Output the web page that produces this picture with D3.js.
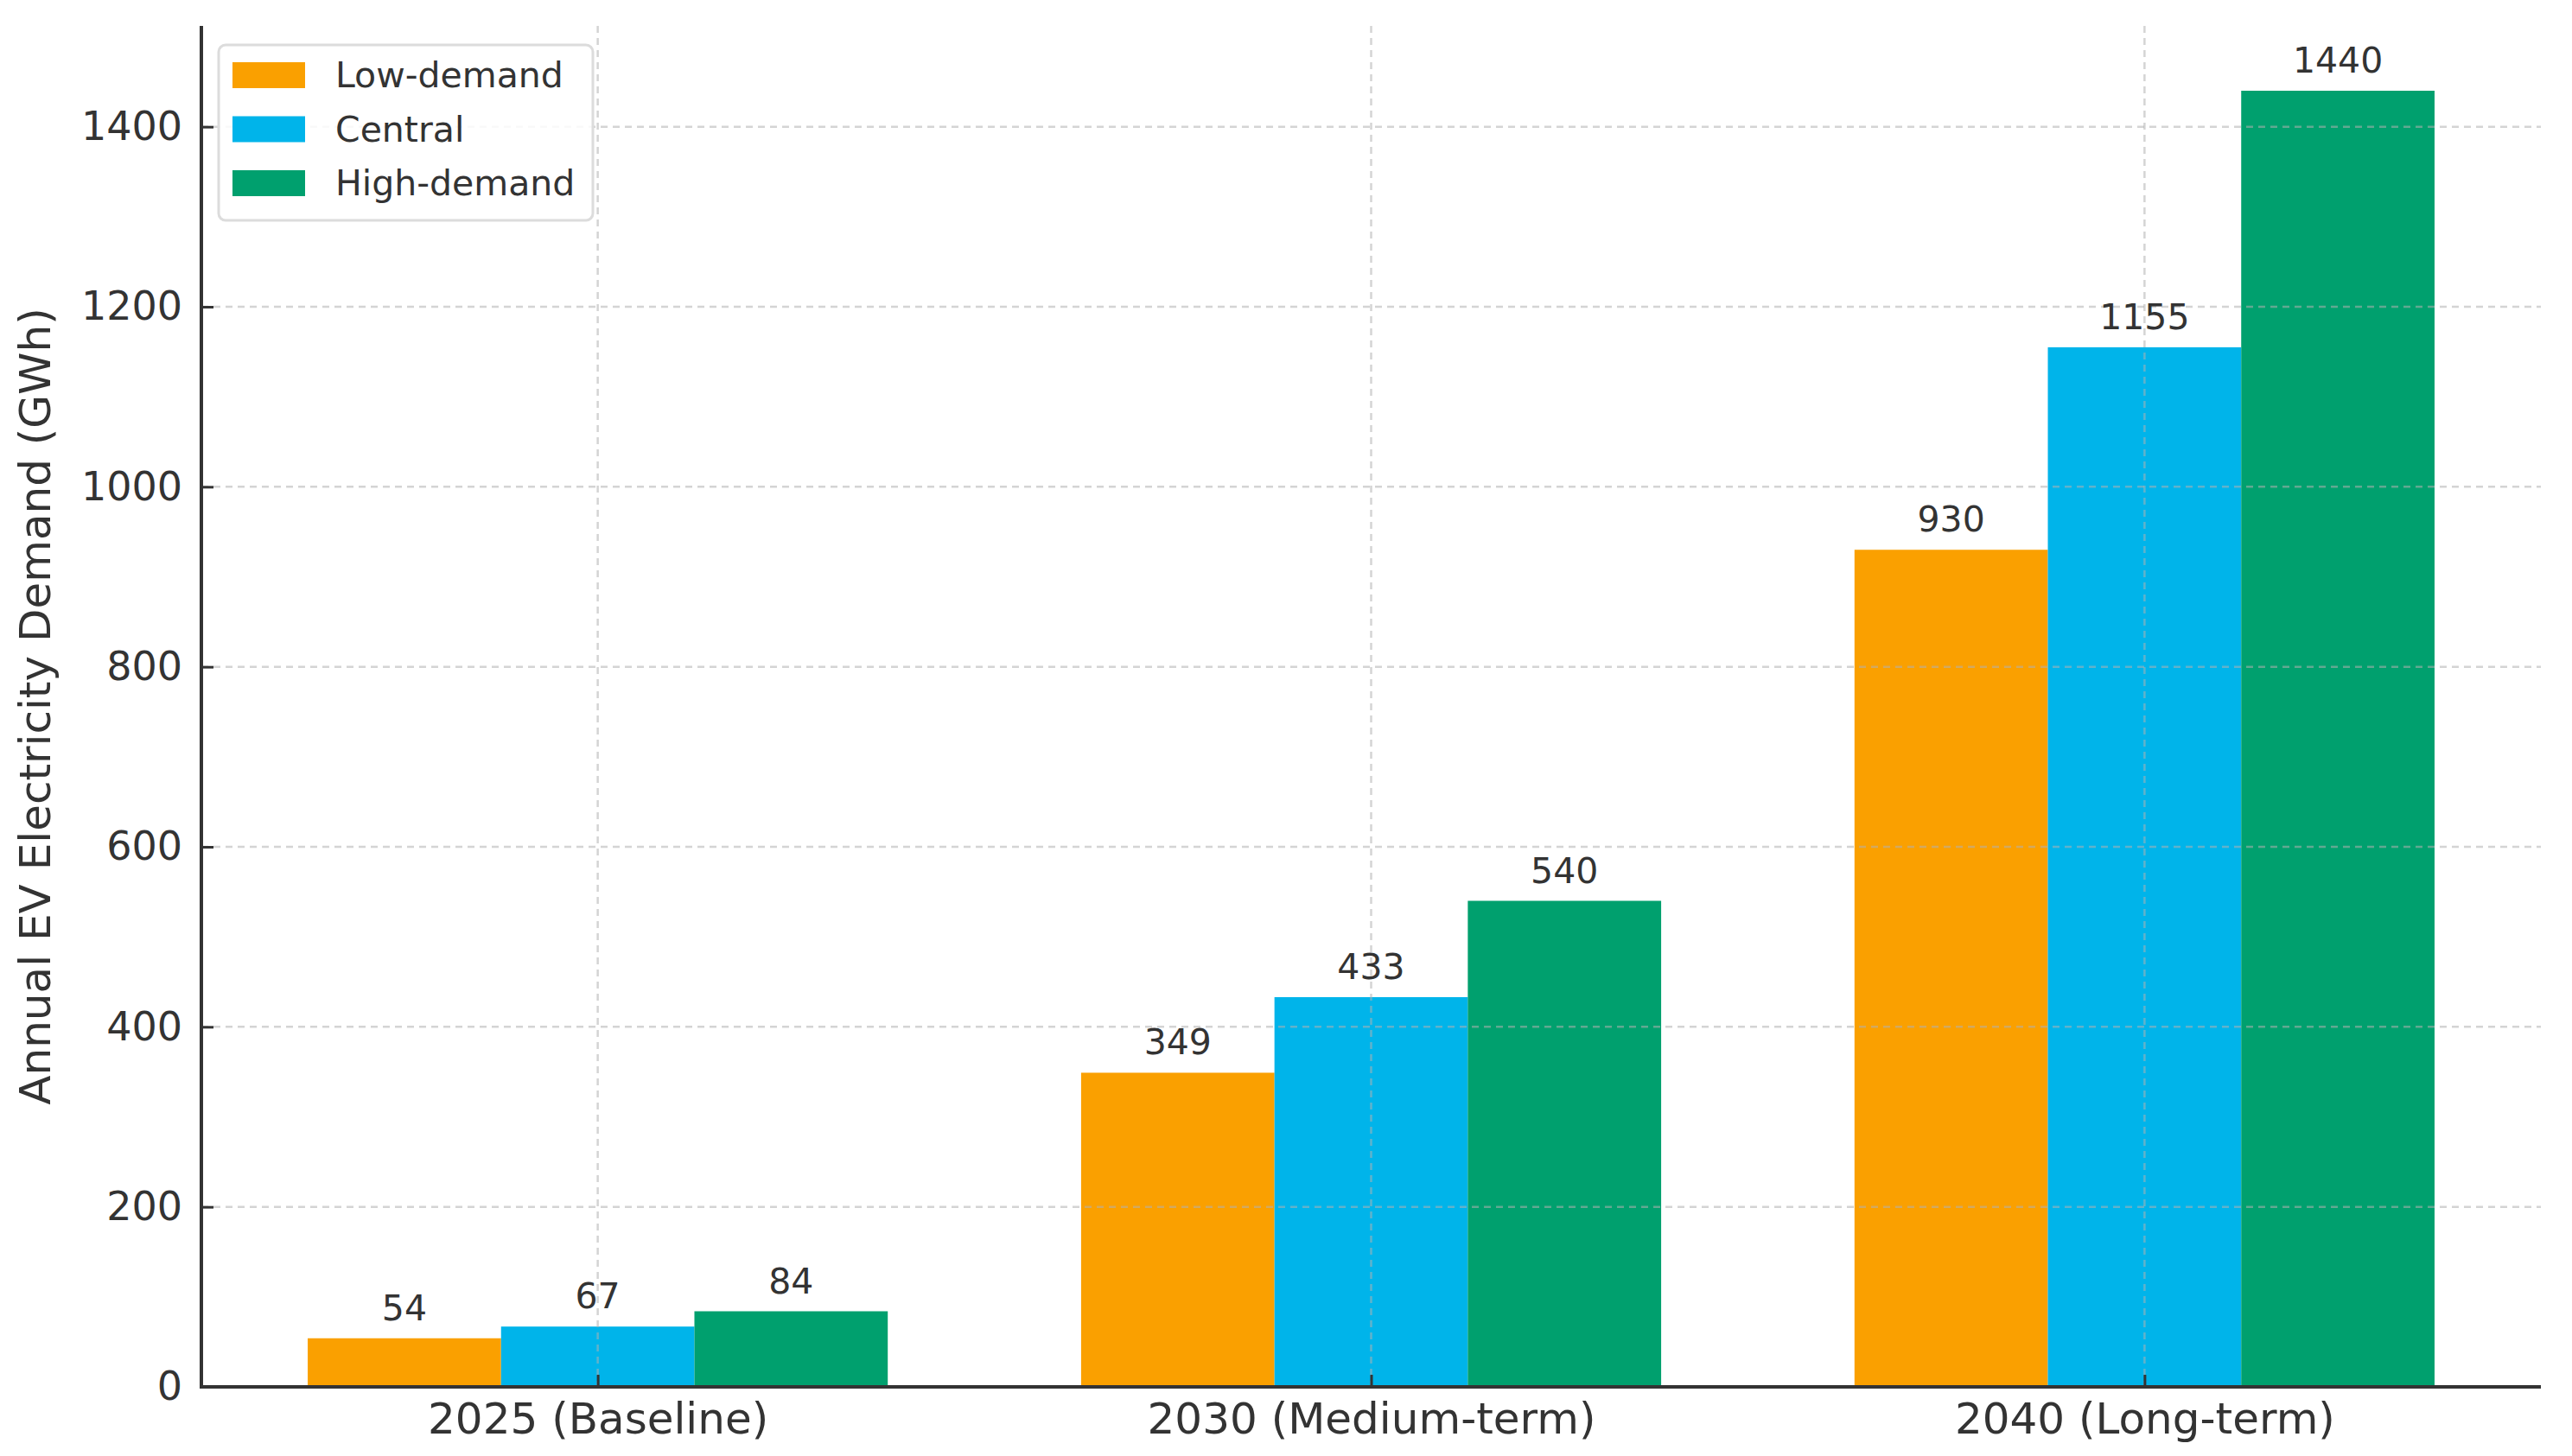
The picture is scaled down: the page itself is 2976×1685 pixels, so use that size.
<!DOCTYPE html>
<html>
<head>
<meta charset="utf-8">
<script src="https://cdn.jsdelivr.net/npm/d3@7"></script>
<style>
  html, body { margin: 0; padding: 0; background: #fff; }
  svg { display: block; }
  text { font-family: "DejaVu Sans", sans-serif; }
</style>
</head>
<body>
<svg id="chart" width="2976" height="1685"></svg>
<script>
const categories = ["2025 (Baseline)", "2030 (Medium-term)", "2040 (Long-term)"];
const seriesNames = ["Low-demand", "Central", "High-demand"];
const lowDemand = [54, 349, 930];
const central = [67, 433, 1155];
const highDemand = [84, 540, 1440];
const yTicks = [0, 200, 400, 600, 800, 1000, 1200, 1400];
const colors = ["#FAA000", "#00B4EA", "#00A06E"];

const series = [lowDemand, central, highDemand];

const mLeft = 233, mRight = 2940, mTop = 30, mBottom = 1605;

const svg = d3.select("#chart");

// x as a linear scale in category-index units (matplotlib style)
const barW = 0.25;
const x = d3.scaleLinear().domain([-0.5125, 2.5125]).range([mLeft, mRight]);
const y = d3.scaleLinear().domain([0, 1512]).range([mBottom, mTop]);

// bars
const gBars = svg.append("g");
series.forEach((vals, si) => {
  gBars.selectAll(null)
    .data(vals)
    .enter()
    .append("rect")
    .attr("x", (d, i) => x(i + (si - 1) * barW - barW / 2))
    .attr("width", x(barW) - x(0))
    .attr("y", d => y(d))
    .attr("height", d => y(0) - y(d))
    .attr("fill", colors[si]);
});

// grid (drawn over bars, translucent)
const gGrid = svg.append("g")
  .attr("stroke", "#b0b0b0")
  .attr("stroke-opacity", 0.55)
  .attr("stroke-width", 2.5)
  .attr("stroke-dasharray", "8,6");
gGrid.selectAll(null)
  .data(yTicks.filter(t => t > 0))
  .enter()
  .append("line")
  .attr("x1", mLeft).attr("x2", mRight)
  .attr("y1", d => y(d)).attr("y2", d => y(d));
gGrid.selectAll(null)
  .data(categories)
  .enter()
  .append("line")
  .attr("x1", (d, i) => x(i)).attr("x2", (d, i) => x(i))
  .attr("y1", mTop).attr("y2", mBottom);

// value labels
series.forEach((vals, si) => {
  svg.append("g").selectAll(null)
    .data(vals)
    .enter()
    .append("text")
    .attr("x", (d, i) => x(i + (si - 1) * barW))
    .attr("y", d => y(d) - 21)
    .attr("text-anchor", "middle")
    .attr("font-size", 41)
    .attr("fill", "#333")
    .text(d => d);
});

// axes
const yAxis = d3.axisLeft(y).tickValues(yTicks).tickFormat(d3.format("d"))
  .tickSizeInner(-14).tickSizeOuter(0).tickPadding(22);
const gy = svg.append("g").attr("transform", `translate(${mLeft},0)`).call(yAxis);
gy.select(".domain").remove();
gy.selectAll(".tick line").attr("stroke", "#333").attr("stroke-width", 3);
gy.selectAll(".tick text").attr("font-size", 46).attr("fill", "#333").attr("font-family", "DejaVu Sans");

const xTickScale = d3.scaleOrdinal().domain(categories).range(categories.map((c, i) => x(i)));
const xAxis = d3.axisBottom(xTickScale).tickSizeInner(-14).tickSizeOuter(0).tickPadding(18);
const gx = svg.append("g").attr("transform", `translate(0,${mBottom})`).call(xAxis);
gx.select(".domain").remove();
gx.selectAll(".tick line").attr("stroke", "#333").attr("stroke-width", 3);
gx.selectAll(".tick text").attr("font-size", 50).attr("fill", "#333").attr("font-family", "DejaVu Sans");

// spines
svg.append("line").attr("x1", mLeft).attr("x2", mLeft).attr("y1", mTop).attr("y2", mBottom + 2)
  .attr("stroke", "#333").attr("stroke-width", 4);
svg.append("line").attr("x1", mLeft - 2).attr("x2", mRight).attr("y1", mBottom).attr("y2", mBottom)
  .attr("stroke", "#333").attr("stroke-width", 4);

// y label
svg.append("text")
  .attr("transform", `translate(58,${(mTop + mBottom) / 2}) rotate(-90)`)
  .attr("text-anchor", "middle")
  .attr("font-size", 50)
  .attr("fill", "#333")
  .text("Annual EV Electricity Demand (GWh)");

// legend
const lg = svg.append("g");
lg.append("rect")
  .attr("x", 253).attr("y", 52).attr("width", 433).attr("height", 203)
  .attr("rx", 8).attr("ry", 8)
  .attr("fill", "#fff").attr("fill-opacity", 0.85)
  .attr("stroke", "#dcdcdc").attr("stroke-width", 3);
seriesNames.forEach((name, i) => {
  const cy = 87 + i * 62.5;
  lg.append("rect").attr("x", 269).attr("y", cy - 15).attr("width", 84).attr("height", 30).attr("fill", colors[i]);
  lg.append("text").attr("x", 388).attr("y", cy + 14).attr("font-size", 41).attr("fill", "#333").text(name);
});
</script>
</body>
</html>
